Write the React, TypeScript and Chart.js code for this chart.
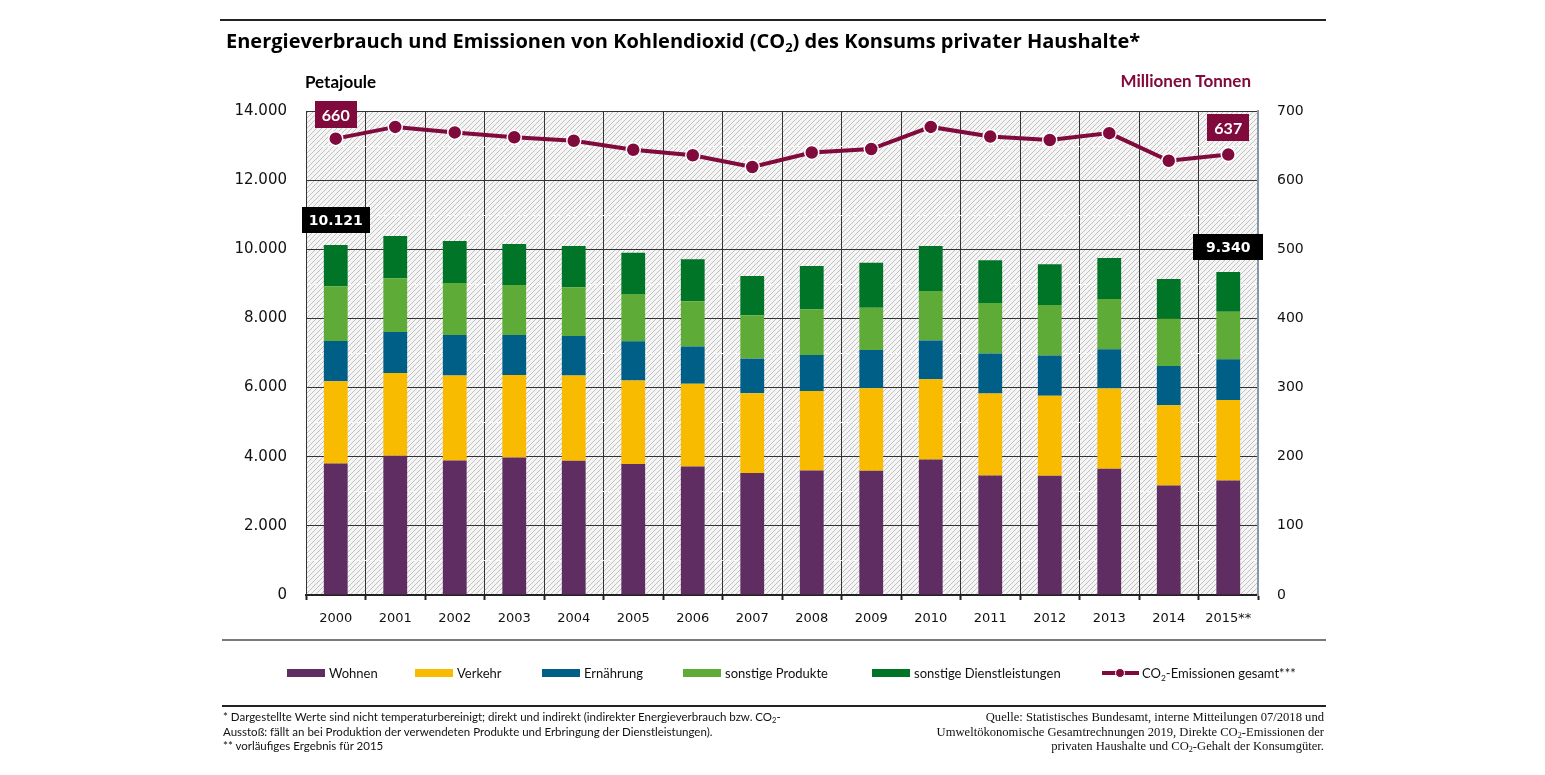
import React, { useEffect, useRef } from "react";
import { Chart, registerables } from "chart.js";

Chart.register(...registerables);

const years = ["2000", "2001", "2002", "2003", "2004", "2005", "2006", "2007", "2008", "2009", "2010", "2011", "2012", "2013", "2014", "2015**"];
const wohnen = [3803, 4026, 3890, 3977, 3881, 3786, 3717, 3526, 3601, 3592, 3919, 3456, 3448, 3650, 3167, 3312];
const verkehr = [2382, 2398, 2456, 2390, 2465, 2416, 2390, 2312, 2303, 2390, 2323, 2370, 2312, 2321, 2324, 2332];
const ernaehrung = [1164, 1185, 1177, 1156, 1148, 1139, 1078, 1000, 1041, 1107, 1116, 1156, 1165, 1138, 1136, 1176];
const produkte = [1581, 1552, 1502, 1445, 1407, 1367, 1312, 1254, 1320, 1223, 1436, 1465, 1465, 1454, 1367, 1376];
const dienstleistungen = [1191, 1223, 1214, 1185, 1194, 1193, 1213, 1136, 1252, 1300, 1301, 1235, 1176, 1185, 1147, 1144];
const co2 = [660, 677, 669, 662, 657, 644, 636, 619, 640, 645, 677, 663, 658, 668, 628, 637];
const minorTicks = [1000, 3000, 5000, 7000, 9000, 11000, 13000];

const C_WOHNEN = "#5f2d62";
const C_VERKEHR = "#f9bb00";
const C_ERN = "#005f87";
const C_PROD = "#5fab37";
const C_DIENST = "#007427";
const C_CO2 = "#800a3c";

const fmt = (v: number) => String(Math.round(v)).replace(/\B(?=(\d{3})+(?!\d))/g, ".");

const totals = years.map((_, i) => wohnen[i] + verkehr[i] + ernaehrung[i] + produkte[i] + dienstleistungen[i]);

function makePattern(): CanvasPattern | string {
  const pc = document.createElement("canvas");
  pc.width = 5;
  pc.height = 5;
  const c = pc.getContext("2d");
  if (!c) return "#e6e6e6";
  c.fillStyle = "#f5f5f5";
  c.fillRect(0, 0, 5, 5);
  c.strokeStyle = "#c2c2c2";
  c.lineWidth = 1;
  c.beginPath();
  c.moveTo(-1, 6);
  c.lineTo(6, -1);
  c.moveTo(-1, 1);
  c.lineTo(1, -1);
  c.moveTo(4, 6);
  c.lineTo(6, 4);
  c.stroke();
  const p = c.createPattern(pc, "repeat");
  return p || "#e6e6e6";
}

function drawBox(ctx: CanvasRenderingContext2D, text: string, cx: number, cy: number, bg: string, font: string, minW: number, h: number) {
  ctx.save();
  ctx.font = font;
  const w = Math.max(ctx.measureText(text).width + 14, minW);
  ctx.fillStyle = bg;
  ctx.fillRect(Math.round(cx - w / 2), Math.round(cy - h / 2), Math.round(w), h);
  ctx.fillStyle = "#ffffff";
  ctx.textAlign = "center";
  ctx.textBaseline = "middle";
  ctx.fillText(text, cx, cy + 1);
  ctx.restore();
}

export default function App() {
  const ref = useRef<HTMLCanvasElement | null>(null);

  useEffect(() => {
    if (!ref.current) return;
    const pattern = makePattern();

    const hatchPlugin = {
      id: "hatch",
      beforeDraw(chart: any) {
        const { ctx, chartArea } = chart;
        ctx.save();
        ctx.fillStyle = pattern;
        ctx.fillRect(chartArea.left, chartArea.top, chartArea.right - chartArea.left, chartArea.bottom - chartArea.top);
        ctx.restore();
      },
    };

    const minorPlugin = {
      id: "minor",
      beforeDatasetsDraw(chart: any) {
        const { ctx, chartArea, scales } = chart;
        ctx.save();
        ctx.strokeStyle = "rgba(255,255,255,0.9)";
        ctx.lineWidth = 1;
        ctx.setLineDash([4, 3]);
        minorTicks.forEach((v) => {
          const y = Math.round(scales.y.getPixelForValue(v)) + 0.5;
          ctx.beginPath();
          ctx.moveTo(chartArea.left + 1, y);
          ctx.lineTo(chartArea.right - 1, y);
          ctx.stroke();
        });
        ctx.restore();
      },
    };

    const labelPlugin = {
      id: "labels",
      afterDatasetsDraw(chart: any) {
        const { ctx, scales } = chart;
        const last = years.length - 1;
        [0, last].forEach((i) => {
          const x = scales.x.getPixelForValue(i);
          const yt = scales.y.getPixelForValue(totals[i]);
          drawBox(ctx, fmt(totals[i]), x, yt - 25, "#000000", "bold 14px 'DejaVu Sans'", i === 0 ? 64 : 70, 26);
          const yc = scales.y2.getPixelForValue(co2[i]);
          drawBox(ctx, String(co2[i]), x, yc - (i === 0 ? 24 : 27), C_CO2, "bold 16px Lato", 41, 27);
        });
      },
    };

    const xFont = { family: "'DejaVu Sans'", size: 13 };
    const yFont = { family: "'DejaVu Sans'", size: 15 };
    const y2Font = { family: "'DejaVu Sans'", size: 14 };

    const chart = new Chart(ref.current, {
      type: "bar",
      data: {
        labels: years,
        datasets: [
          { type: "line", label: "CO2-Emissionen gesamt***", data: co2, yAxisID: "y2", order: 0, borderColor: C_CO2, backgroundColor: C_CO2, borderWidth: 4, pointRadius: 7, pointBackgroundColor: C_CO2, pointBorderColor: "#ffffff", pointBorderWidth: 1.5, tension: 0 } as any,
          { label: "Wohnen", data: wohnen, backgroundColor: C_WOHNEN, order: 1, yAxisID: "y" },
          { label: "Verkehr", data: verkehr, backgroundColor: C_VERKEHR, order: 1, yAxisID: "y" },
          { label: "Ernährung", data: ernaehrung, backgroundColor: C_ERN, order: 1, yAxisID: "y" },
          { label: "sonstige Produkte", data: produkte, backgroundColor: C_PROD, order: 1, yAxisID: "y" },
          { label: "sonstige Dienstleistungen", data: dienstleistungen, backgroundColor: C_DIENST, order: 1, yAxisID: "y" },
        ],
      },
      options: {
        responsive: false,
        animation: false,
        devicePixelRatio: 1,
        layout: { padding: { left: 216, right: 207, top: 111, bottom: 140 } },
        datasets: { bar: { barPercentage: 0.4, categoryPercentage: 1, borderWidth: 0 } } as any,
        plugins: { legend: { display: false }, tooltip: { enabled: false }, title: { display: false } },
        scales: {
          x: {
            stacked: true,
            offset: true,
            grid: { offset: true, color: "#333333", lineWidth: 1, drawTicks: true, tickLength: 5, tickColor: "#222222", tickWidth: 2 },
            border: { color: "#222222", width: 2 },
            ticks: { font: xFont, color: "#111111", padding: 11, maxRotation: 0, autoSkip: false },
            afterFit: (s: any) => { s.height = 40; },
          },
          y: {
            stacked: true,
            min: 0,
            max: 14000,
            position: "left",
            ticks: { stepSize: 2000, font: yFont, color: "#111111", padding: 19, callback: (v: any) => fmt(Number(v)) },
            grid: { color: "#333333", lineWidth: 1, drawTicks: false },
            border: { color: "#333333", width: 1 },
            afterFit: (s: any) => { s.width = 90; },
          },
          y2: {
            position: "right",
            min: 0,
            max: 700,
            ticks: { stepSize: 100, font: y2Font, color: "#111111", padding: 19 },
            grid: { drawOnChartArea: false, drawTicks: false },
            border: { color: "#8797ab", width: 2 },
            afterFit: (s: any) => { s.width = 80; },
          },
        },
      },
      plugins: [hatchPlugin, minorPlugin, labelPlugin],
    });
    return () => chart.destroy();
  }, []);

  const sub: React.CSSProperties = { fontSize: "0.65em", verticalAlign: "-0.3em", lineHeight: 0 };
  const legendText: React.CSSProperties = { position: "absolute", top: 664, font: "13px Lato", color: "#111", whiteSpace: "nowrap", lineHeight: "18px" };
  const swatch = (left: number, color: string): React.CSSProperties => ({ position: "absolute", left, top: 669, width: 38, height: 8, background: color });
  const legendItems = [
    { label: "Wohnen", color: C_WOHNEN, x: 287 },
    { label: "Verkehr", color: C_VERKEHR, x: 415 },
    { label: "Ernährung", color: C_ERN, x: 542 },
    { label: "sonstige Produkte", color: C_PROD, x: 683 },
    { label: "sonstige Dienstleistungen", color: C_DIENST, x: 872 },
  ];
  const footL: React.CSSProperties = { position: "absolute", left: 223, top: 710, font: "11.5px Lato", lineHeight: "14.5px", color: "#111", whiteSpace: "nowrap" };
  const footR: React.CSSProperties = { position: "absolute", right: 1545 - 1324, top: 710, font: "12.6px 'Liberation Serif'", lineHeight: "14.5px", color: "#111", whiteSpace: "nowrap", textAlign: "right" };

  return (
    <div style={{ position: "absolute", left: 0, top: 0, width: 1545, height: 775, background: "#fff", overflow: "hidden" }}>
      <canvas ref={ref} width={1545} height={775} style={{ position: "absolute", left: 0, top: 0, width: 1545, height: 775 }} />
      <div style={{ position: "absolute", left: 220, top: 19, width: 1106, height: 2, background: "#222" }} />
      <div style={{ position: "absolute", left: 226, top: 27, font: "bold 20px 'Open Sans'", lineHeight: "28px", color: "#000", whiteSpace: "nowrap" }}>
        Energieverbrauch und Emissionen von Kohlendioxid (CO<sub style={sub}>2</sub>) des Konsums privater Haushalte*
      </div>
      <div style={{ position: "absolute", left: 305, top: 72, font: "bold 17px Lato", lineHeight: "20px", color: "#000", whiteSpace: "nowrap" }}>Petajoule</div>
      <div style={{ position: "absolute", right: 1545 - 1251, top: 71, font: "bold 17px Lato", lineHeight: "20px", color: C_CO2, whiteSpace: "nowrap" }}>Millionen Tonnen</div>
      <div style={{ position: "absolute", left: 222, top: 639, width: 1104, height: 2, background: "#7a7a7a" }} />
      {legendItems.map((it) => (
        <React.Fragment key={it.label}>
          <div style={swatch(it.x, it.color)} />
          <div style={{ ...legendText, left: it.x + 42 }}>{it.label}</div>
        </React.Fragment>
      ))}
      <div style={{ position: "absolute", left: 1102, top: 671, width: 37, height: 4, background: C_CO2 }} />
      <div style={{ position: "absolute", left: 1115, top: 668, width: 8, height: 8, borderRadius: 6, background: C_CO2, border: "1px solid #fff" }} />
      <div style={{ ...legendText, left: 1142 }}>
        CO<sub style={sub}>2</sub>-Emissionen gesamt***
      </div>
      <div style={{ position: "absolute", left: 222, top: 705, width: 1104, height: 2, background: "#222" }} />
      <div style={footL}>
        <div>* Dargestellte Werte sind nicht temperaturbereinigt; direkt und indirekt (indirekter Energieverbrauch bzw. CO<sub style={sub}>2</sub>-</div>
        <div>Ausstoß: fällt an bei Produktion der verwendeten Produkte und Erbringung der Dienstleistungen).</div>
        <div>** vorläufiges Ergebnis für 2015</div>
      </div>
      <div style={footR}>
        <div>Quelle: Statistisches Bundesamt, interne Mitteilungen 07/2018 und</div>
        <div>Umweltökonomische Gesamtrechnungen 2019, Direkte CO<sub style={sub}>2</sub>-Emissionen der</div>
        <div>privaten Haushalte und CO<sub style={sub}>2</sub>-Gehalt der Konsumgüter.</div>
      </div>
    </div>
  );
}
